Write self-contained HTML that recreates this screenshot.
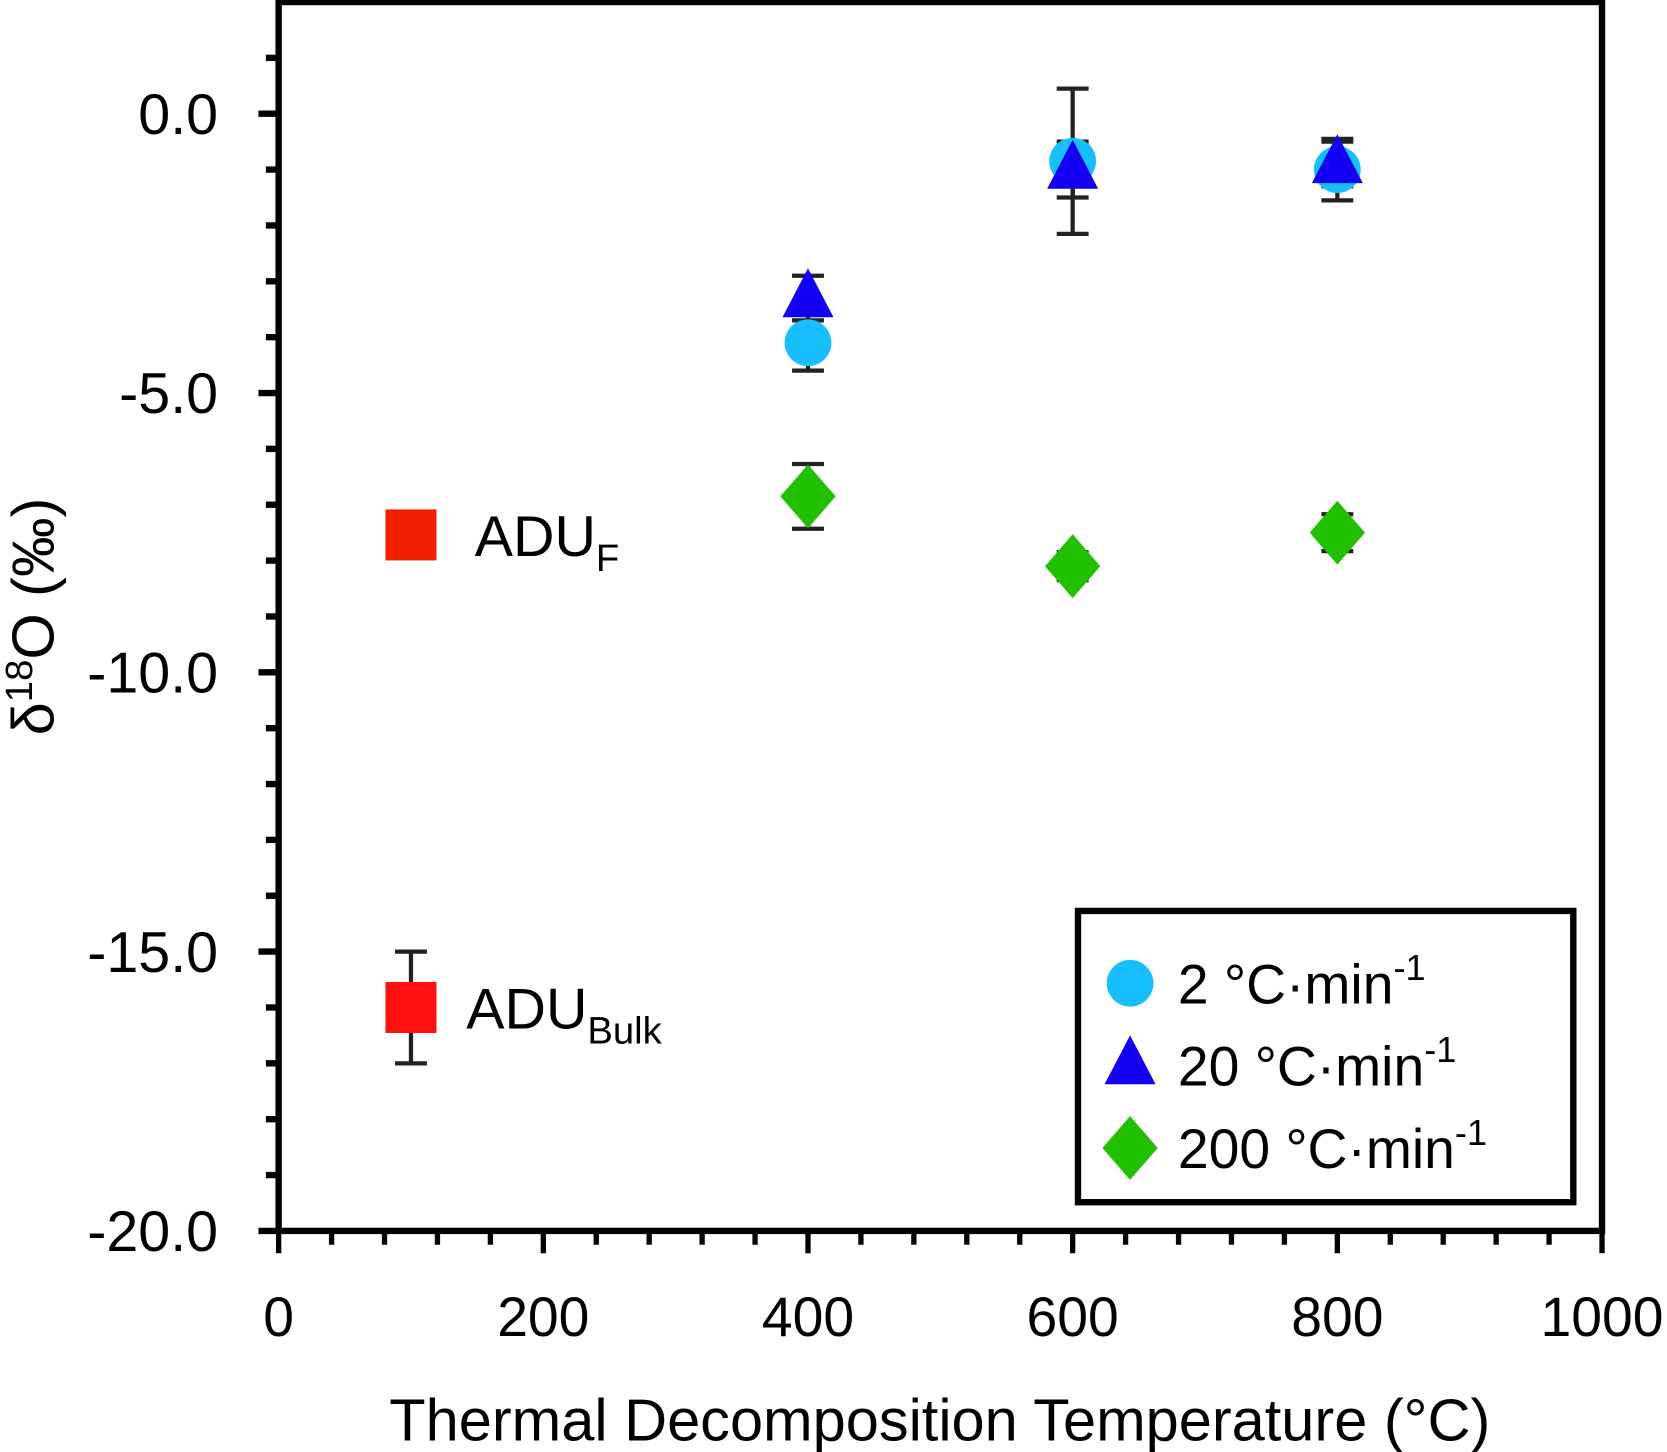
<!DOCTYPE html>
<html><head><meta charset="utf-8"><style>
html,body{margin:0;padding:0;background:#fff;}
svg{display:block;}
text{font-family:"Liberation Sans Narrow","Liberation Sans",sans-serif;fill:#000;}
</style></head><body>
<svg id="chart" width="1667" height="1452" viewBox="0 0 1568 1366" xmlns="http://www.w3.org/2000/svg">
</svg>
<script>
const xTicks=[0,200,400,600,800,1000];
const yTicks=[0,-5,-10,-15,-20];
const yTickLabels=["0.0","-5.0","-10.0","-15.0","-20.0"];
const temps=[400,600,800];
const slowVals=[-4.1,-0.85,-1.0];
const slowErr=[0.5,1.3,0.55];
const midVals=[-3.3,-1.0,-0.9];
const midErr=[0.4,0.5,0.4];
const fastVals=[-6.85,-8.1,-7.5];
const fastErr=[0.58,0.25,0.33];
const refLabels=["ADU_F","ADU_Bulk"];
const refX=[100,100];
const refVals=[-7.54,-16.0];
const refErr=[0,1.0];

const NS="http://www.w3.org/2000/svg";
const svg=document.getElementById('chart');
const X=v=>262+(v/1000)*1245;
const Y=v=>107-v*52.55;
function mk(tag,attrs,parent){const e=document.createElementNS(NS,tag);for(const k in attrs)e.setAttribute(k,attrs[k]);(parent||svg).appendChild(e);return e;}

const frame=mk('rect',{x:262,y:Y(2),width:1245,height:Y(-20)-Y(2),fill:'none',stroke:'#000','stroke-width':6});


for(let v=1;v>=-20;v--){
  const major=(v%5===0);
  const t=mk('line',{x1:major?243:250,x2:262,y1:Y(v),y2:Y(v),stroke:'#000','stroke-width':6});
  
  
}
yTicks.forEach((v,i)=>{
  const t=mk('text',{x:205,y:Y(v)+19,'text-anchor':'end','font-size':54});
  t.textContent=yTickLabels[i];
  
  
});
for(let v=0;v<=1000;v+=40){
  const major=(v%200===0);
  const t=mk('line',{x1:X(v),x2:X(v),y1:Y(-20),y2:major?1179:1171,stroke:'#000','stroke-width':5});
  
  
}
xTicks.forEach(v=>{
  const t=mk('text',{x:X(v),y:1257,'text-anchor':'middle','font-size':52});
  t.textContent=String(v);
  
  
});
const xt=mk('text',{x:884,y:1355,'text-anchor':'middle','font-size':56});
xt.textContent='Thermal Decomposition Temperature (°C)';


const yt=mk('text',{transform:'translate(50,580) rotate(-90)','text-anchor':'middle','font-size':56});
yt.innerHTML='δ<tspan font-size="36" dy="-20">18</tspan><tspan dy="20">O (‰)</tspan>';



function errbar(x,v,e,name){
  if(!e)return;
  const g=mk('g',{stroke:'#222','stroke-width':4});
  
  
  mk('line',{x1:X(x),x2:X(x),y1:Y(v+e),y2:Y(v-e)},g);
  mk('line',{x1:X(x)-15,x2:X(x)+15,y1:Y(v+e),y2:Y(v+e)},g);
  mk('line',{x1:X(x)-15,x2:X(x)+15,y1:Y(v-e),y2:Y(v-e)},g);
}
temps.forEach((t,i)=>{errbar(t,slowVals[i],slowErr[i],'error-bar-2cmin');errbar(t,midVals[i],midErr[i],'error-bar-20cmin');errbar(t,fastVals[i],fastErr[i],'error-bar-200cmin');});
refX.forEach((x,i)=>errbar(x,refVals[i],refErr[i],'error-bar-reference'));
function circle(cx,cy){return mk('circle',{cx:cx,cy:cy,r:22,fill:'#17bfff'});}
function tri(cx,cy){return mk('polygon',{points:`${cx},${cy-28} ${cx+24},${cy+18} ${cx-24},${cy+18}`,fill:'#1400f0'});}
function dia(cx,cy){return mk('polygon',{points:`${cx},${cy-30} ${cx+26},${cy} ${cx},${cy+30} ${cx-26},${cy}`,fill:'#21c000'});}
temps.forEach((t,i)=>{
  const c=circle(X(t),Y(slowVals[i]));
  
  
});
temps.forEach((t,i)=>{
  const c=tri(X(t),Y(midVals[i]));
  
  
});
temps.forEach((t,i)=>{
  const c=dia(X(t),Y(fastVals[i]));
  
  
});
refX.forEach((x,i)=>{
  const s=mk('rect',{x:X(x)-24,y:Y(refVals[i])-24,width:48,height:48,fill:i===0?'#f02000':'#ff1010'});
  
  
  const parts=refLabels[i].split('_');
  const lt=mk('text',{x:X(x)+(i===0?60:52),y:Y(refVals[i])+20,'font-size':54});
  lt.innerHTML=parts[0]+'<tspan font-size="36" dy="14">'+parts[1]+'</tspan>';
  
  
});
const lg=mk('g',{});


mk('rect',{x:1014,y:857,width:466,height:274,fill:'#fff',stroke:'#000','stroke-width':6},lg);
const legendLabels=['2 °C·min','20 °C·min','200 °C·min'];
const ly=[925,1002,1080];
[circle,tri,dia].forEach((f,i)=>{
  const m=f(1063,ly[i]);
  lg.appendChild(m);
  
  
  const t=mk('text',{x:1108,y:ly[i]+19,'font-size':52},lg);
  t.innerHTML=legendLabels[i]+'<tspan font-size="34" dy="-22">-1</tspan>';
  
  
});
</script>
</body></html>
